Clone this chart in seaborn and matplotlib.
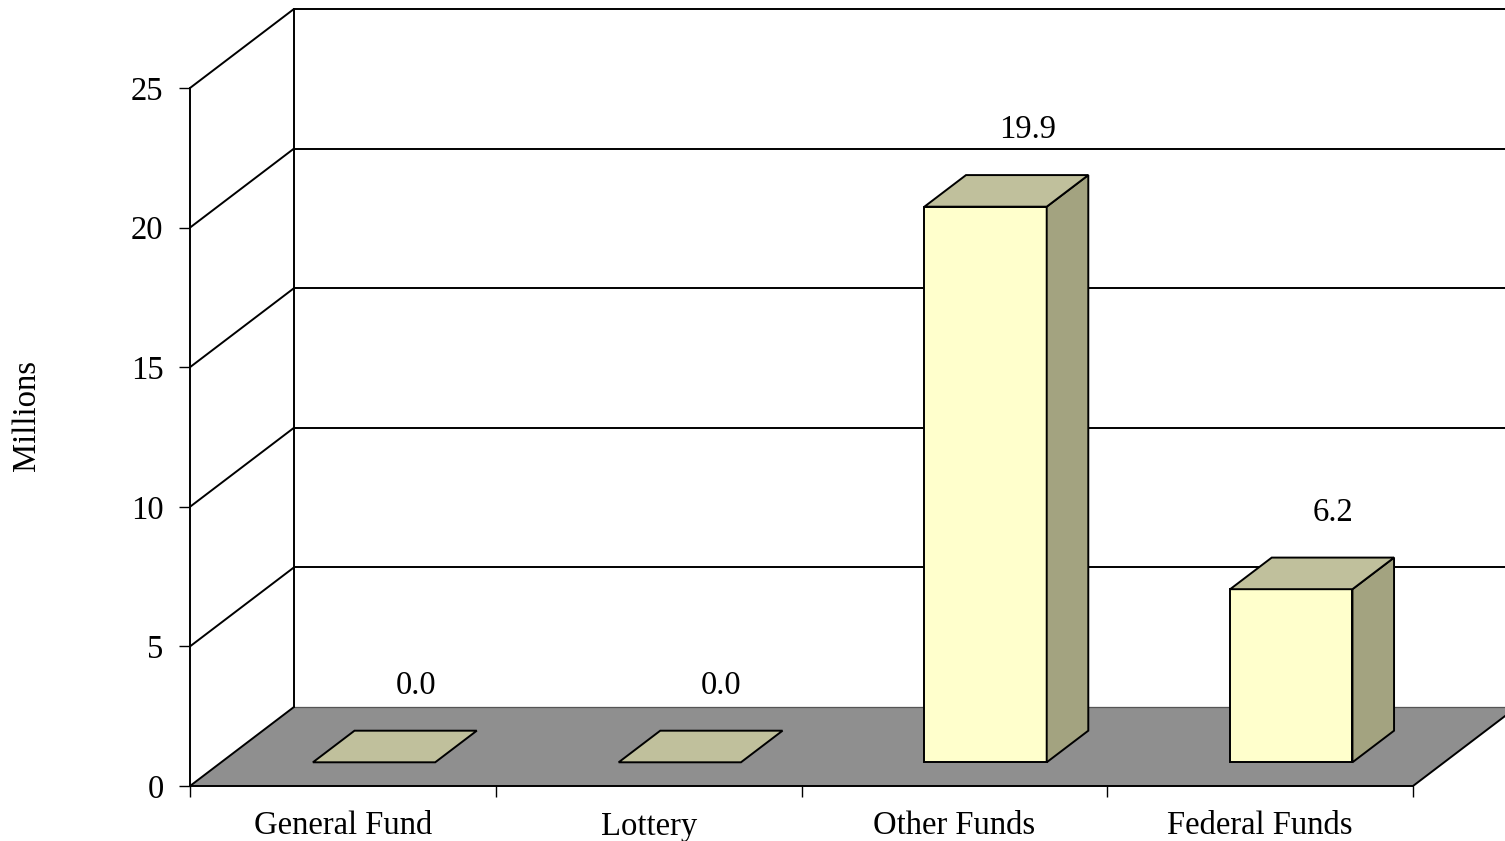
import matplotlib
matplotlib.use("Agg")
import matplotlib.pyplot as plt
import matplotlib.transforms as mtransforms
from matplotlib.patches import Polygon
import numpy as np
import pandas as pd
import seaborn as sns

# ---- data -------------------------------------------------------------
categories = ["General Fund", "Lottery", "Other Funds", "Federal Funds"]
values = [0.0, 0.0, 19.9, 6.2]
y_ticks = [0, 5, 10, 15, 20, 25]
y_label = "Millions"

# ---- style ------------------------------------------------------------
sns.set_theme(style="white")
plt.rcParams["font.family"] = ["Liberation Serif", "DejaVu Serif"]
plt.rcParams.update({"text.color": "black", "axes.labelcolor": "black",
                     "xtick.color": "black", "ytick.color": "black"})
FS = 23.5

FRONT = "#FFFFCC"
TOP = "#C0C09C"
SIDE = "#A3A380"
FLOOR = "#8F8F8F"
LW = 1.4

# depth of the 3-D box (data units) and the slab occupied by the bars
DX, DY = 0.34, 2.83
D0, D1 = 0.30, 0.70
BAR_W = 0.4

fig = plt.figure(figsize=(15.05, 8.41), dpi=100)
ax = fig.add_axes([190 / 1505, 55 / 841, 1223 / 1505, 698 / 841])
ax.set_facecolor("none")

df = pd.DataFrame({"cat": categories, "val": values})
sns.barplot(data=df, x="cat", y="val", order=categories, width=BAR_W,
            color=FRONT, saturation=1, edgecolor="black", linewidth=LW,
            errorbar=None, ax=ax, zorder=3)

ax.set_xlim(-0.5, 3.5)
ax.set_ylim(0, 25)
x0, x1 = -0.5, 3.5
ymax = y_ticks[-1]

# floor
floor = Polygon([(x0, 0), (x1, 0), (x1 + DX, DY), (x0 + DX, DY)],
                closed=True, facecolor=FLOOR, edgecolor="none",
                zorder=0.5, clip_on=False)
ax.add_patch(floor)
ax.plot([x0 + DX, x1 + DX], [DY, DY], color="#555555", lw=0.9,
        zorder=0.6, clip_on=False)
ax.plot([x0, x0 + DX], [0, DY], color="black", lw=LW, zorder=0.7, clip_on=False)
ax.plot([x1, x1 + DX], [0, DY], color="black", lw=LW, zorder=0.7, clip_on=False)

# back wall edge and grid lines, side wall diagonals
ax.plot([x0 + DX, x0 + DX], [DY, ymax + DY], color="black", lw=LW,
        zorder=1, clip_on=False)
for v in y_ticks[1:]:
    ax.plot([x0 + DX, x1 + DX + 1], [v + DY, v + DY], color="black", lw=LW,
            zorder=1, clip_on=False)
    ax.plot([x0, x0 + DX], [v, v + DY], color="black", lw=LW,
            zorder=1, clip_on=False)

# push the front faces into the floor and add the top and side faces
shift = mtransforms.Affine2D().translate(D0 * DX, D0 * DY) + ax.transData
ddx, ddy = (D1 - D0) * DX, (D1 - D0) * DY
for bar, v in zip(ax.patches[:len(values)], values):
    bar.set_transform(shift)
    bar.set_clip_on(False)
    left = bar.get_x() + D0 * DX
    right = left + bar.get_width()
    base = D0 * DY
    top = base + bar.get_height()
    top_face = Polygon([(left, top), (right, top), (right + ddx, top + ddy),
                        (left + ddx, top + ddy)], closed=True,
                       facecolor=TOP, edgecolor="black", lw=LW,
                       zorder=3.2, clip_on=False)
    ax.add_patch(top_face)
    if v > 0:
        side_face = Polygon([(right, base), (right + ddx, base + ddy),
                             (right + ddx, top + ddy), (right, top)],
                            closed=True, facecolor=SIDE, edgecolor="black",
                            lw=LW, zorder=3.1, clip_on=False)
        ax.add_patch(side_face)
    ax.text((left + right) / 2 + ddx, top + ddy + 1.62, f"{v:.1f}",
            ha="center", va="center", fontsize=FS, color="black", zorder=4)

# axes, ticks and labels
for s in ["top", "right"]:
    ax.spines[s].set_visible(False)
for s in ["left", "bottom"]:
    ax.spines[s].set_color("black")
    ax.spines[s].set_linewidth(LW)
    ax.spines[s].set_zorder(2)

ax.set_yticks(y_ticks)
ax.set_yticklabels([str(t) for t in y_ticks], fontsize=FS)
ax.tick_params(axis="y", which="major", direction="out", length=8, width=1,
               color="black", pad=11, left=True)
ax.set_xticks(range(len(categories)))
ax.set_xticklabels(categories, fontsize=FS)
ax.set_xticks(np.arange(len(categories) + 1) - 0.5, minor=True)
ax.tick_params(axis="x", which="major", length=0, pad=18)
ax.tick_params(axis="x", which="minor", direction="out", length=8, width=1,
               color="black", bottom=True)
ax.set_xlabel("")
ax.set_ylabel(y_label, fontsize=FS)
ax.yaxis.set_label_coords(-0.121, 0.5315)

fig.savefig("out.png", dpi=100)
